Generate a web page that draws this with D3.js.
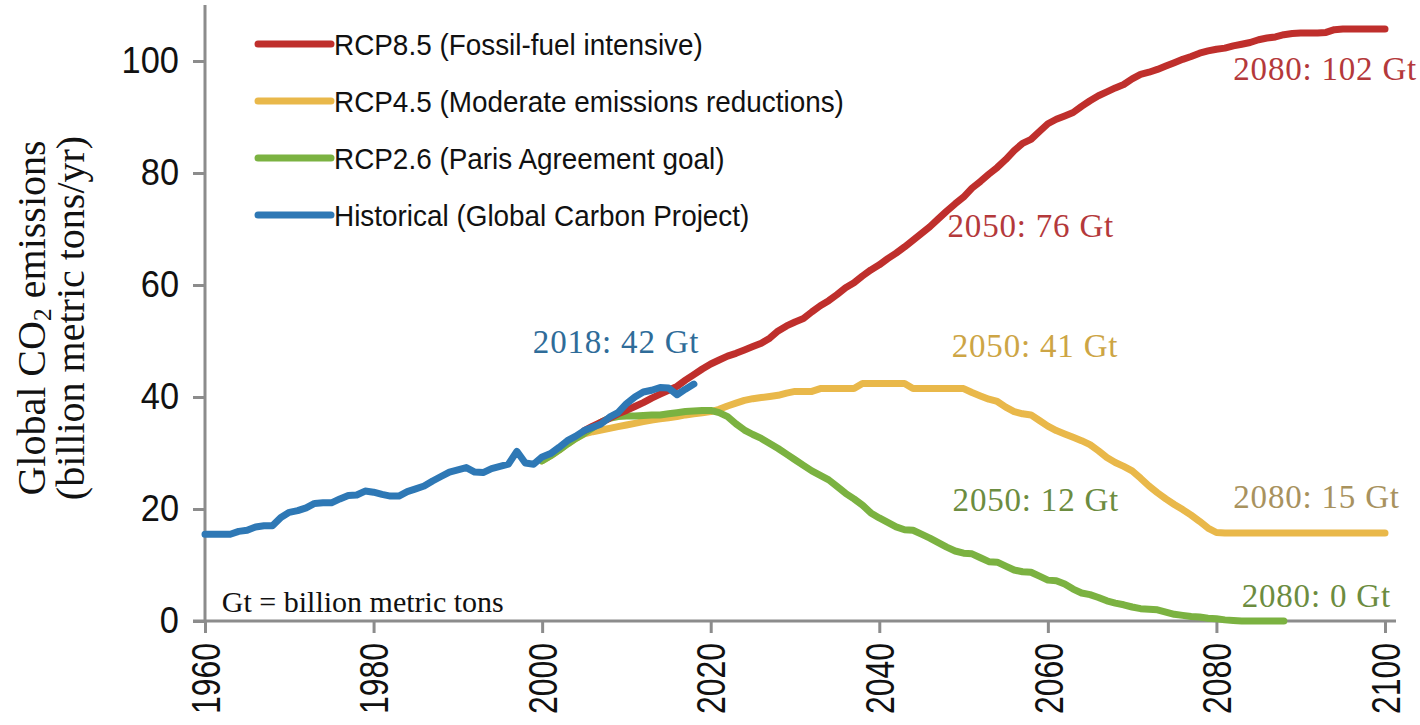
<!DOCTYPE html>
<html><head><meta charset="utf-8">
<script src="https://cdn.jsdelivr.net/npm/d3@7"></script>
<style>body{margin:0;background:#fff} svg{display:block}</style>
</head><body>
<svg id="c" width="1420" height="725"></svg>
<script>
// ---------- DATA ----------
const histYears = d3.range(1960, 2019);
const histValues = [
  15.5,15.5,15.5,15.5,16.0,16.2,16.8,17.0,17.0,18.5,
  19.4,19.7,20.2,21.0,21.1,21.1,21.8,22.4,22.5,23.2,
  23.0,22.6,22.3,22.3,23.1,23.6,24.1,25.0,25.8,26.6,
  27.0,27.4,26.6,26.5,27.2,27.6,28.0,30.3,28.2,28.0,
  29.3,29.9,31.0,32.2,33.0,34.0,34.6,35.2,36.4,37.2,
  38.8,40.0,40.9,41.2,41.7,41.6,40.4,41.4,42.3
];
const rcp85Years = d3.range(2005, 2101);
const rcp85Values = [
  34.0,34.8,35.5,36.2,37.0,
  37.6,38.3,39.0,39.8,40.5,41.2,41.9,43.0,44.0,45.0,
  45.9,46.6,47.3,47.8,48.4,49.0,49.6,50.5,51.8,52.7,
  53.4,54.0,55.2,56.3,57.2,58.3,59.5,60.4,61.6,62.7,
  63.6,64.7,65.7,66.8,68.0,69.2,70.4,71.8,73.2,74.5,
  75.7,77.3,78.5,79.8,81.0,82.4,84.0,85.3,86.0,87.4,
  88.8,89.6,90.2,90.8,91.9,92.9,93.8,94.5,95.2,95.8,
  96.8,97.6,98.0,98.5,99.1,99.7,100.3,100.8,101.4,101.8,
  102.1,102.3,102.7,103.0,103.3,103.8,104.1,104.3,104.7,104.9,
  105.0,105.0,105.0,105.1,105.6,105.7,105.7,105.7,105.7,105.7,105.7
];
const rcp45Years = d3.range(2000, 2101);
const rcp45Values = [
  28.6,29.5,30.5,31.6,32.6,33.4,33.8,34.1,34.4,34.7,
  35.0,35.3,35.6,35.9,36.1,36.3,36.5,36.8,37.0,37.2,
  37.4,37.8,38.4,38.9,39.4,39.7,39.9,40.1,40.3,40.7,
  41.0,41.0,41.0,41.5,41.5,41.5,41.5,41.5,42.4,42.4,
  42.4,42.4,42.4,42.4,41.5,41.5,41.5,41.5,41.5,41.5,
  41.5,40.8,40.2,39.6,39.2,38.2,37.4,37.0,36.8,35.8,
  34.8,34.0,33.4,32.8,32.2,31.5,30.4,29.2,28.3,27.6,
  26.8,25.5,24.1,22.9,21.8,20.8,19.9,18.9,17.8,16.6,
  15.8,15.7,15.7,15.7,15.7,15.7,15.7,15.7,15.7,15.7,
  15.7,15.7,15.7,15.7,15.7,15.7,15.7,15.7,15.7,15.7,15.7
];
const rcp26Years = d3.range(2000, 2089);
const rcp26Values = [
  28.6,29.5,30.5,31.6,32.6,33.5,34.5,35.5,36.2,36.5,
  36.6,36.6,36.7,36.8,36.8,37.0,37.2,37.4,37.5,37.6,
  37.6,37.2,36.5,35.2,34.1,33.3,32.6,31.7,30.8,29.8,
  28.8,27.8,26.8,26.0,25.2,24.0,22.8,21.8,20.7,19.3,
  18.4,17.6,16.8,16.3,16.2,15.5,14.8,14.0,13.2,12.5,
  12.1,12.0,11.3,10.6,10.5,9.8,9.1,8.8,8.7,8.0,
  7.3,7.2,6.6,5.7,5.0,4.7,4.2,3.6,3.2,2.9,
  2.5,2.2,2.1,2.0,1.6,1.2,1.0,0.8,0.7,0.5,
  0.4,0.2,0.1,0,0,0,0,0,0
];
const xTicks = [1960,1980,2000,2020,2040,2060,2080,2100];
const yTicks = [0,20,40,60,80,100];
const legendLabels = [
  "RCP8.5 (Fossil-fuel intensive)",
  "RCP4.5 (Moderate emissions reductions)",
  "RCP2.6 (Paris Agreement goal)",
  "Historical (Global Carbon Project)"
];
const annotationTexts = ["2018: 42 Gt","2050: 76 Gt","2080: 102 Gt","2050: 41 Gt","2050: 12 Gt","2080: 15 Gt","2080: 0 Gt"];
const annotationYears = [1998.9, 2048.1, 2082.0, 2048.6, 2048.7, 2082.0, 2083.0];
const annotationValues = [47.9, 68.6, 96.6, 47.1, 19.6, 20.2, 2.5];

// ---------- STYLE ----------
const C = {red:"#BF2F2C", yellow:"#E9B84A", green:"#7BB241", blue:"#2E78B5", axis:"#8c8c8c"};
const annColors = ["#2F6C99","#B4393B","#B4393B","#CDA545","#6C8C40","#A8925E","#6C8C40"];
const SANS = "Liberation Sans, Arial, sans-serif";
const SERIF = "Liberation Serif, 'Times New Roman', serif";

const svg = d3.select("#c");
const x = d3.scaleLinear().domain([1960, 2100]).range([205, 1385]);
const y = d3.scaleLinear().domain([0, 110]).range([621, 5]);

// axes
const gy = svg.append("g").attr("transform", `translate(${x(1960)},0)`)
  .call(d3.axisLeft(y).tickValues(yTicks).tickSize(12).tickSizeOuter(0).tickPadding(14));
gy.selectAll("text").attr("font-family",SANS).attr("font-size",37).attr("fill","#111")
  .attr("transform","translate(-26,0) scale(0.93,1) translate(26,0)");
const gx = svg.append("g").attr("transform", `translate(0,${y(0)})`)
  .call(d3.axisBottom(x).tickValues(xTicks).tickSize(12).tickSizeOuter(0));
gx.selectAll("text").remove();
[gx, gy].forEach(g => {
  g.select(".domain").remove();
  g.selectAll(".tick line").attr("stroke", C.axis).attr("stroke-width", 3);
});
svg.append("line").attr("x1", x(1960)).attr("x2", x(1960)).attr("y1", y(0)).attr("y2", y.range()[1])
  .attr("stroke", C.axis).attr("stroke-width", 3);
svg.append("line").attr("x1", x(1960)-12).attr("x2", x(2100)+11).attr("y1", y(0)).attr("y2", y(0))
  .attr("stroke", C.axis).attr("stroke-width", 3);

// x tick labels (rotated, condensed)
svg.append("g").selectAll("g").data(xTicks).join("g")
  .attr("transform", d => `translate(${x(d)},${y(0)+22}) rotate(-90) scale(0.78,1)`)
  .append("text").attr("text-anchor","end").attr("dy","0.36em")
  .attr("font-family",SANS).attr("font-size",41).attr("fill","#111")
  .text(d => d);

// series
const line = d3.line().x(d => x(d[0])).y(d => y(d[1]));
const series = [
  {years: rcp45Years, values: rcp45Values, color: C.yellow},
  {years: rcp26Years, values: rcp26Values, color: C.green},
  {years: rcp85Years, values: rcp85Values, color: C.red},
  {years: histYears, values: histValues, color: C.blue}
];
series.forEach(s => {
  svg.append("path").datum(s.years.map((yr,i) => [yr, s.values[i]]))
    .attr("d", line).attr("fill","none").attr("stroke", s.color)
    .attr("stroke-width", 7).attr("stroke-linejoin","round").attr("stroke-linecap","round");
});

// legend
const legColors = [C.red, C.yellow, C.green, C.blue];
const leg = svg.append("g").attr("transform","translate(258,44)");
legendLabels.forEach((t,i) => {
  const g = leg.append("g").attr("transform", `translate(0,${i*57})`);
  g.append("line").attr("x1",0).attr("x2",73).attr("y1",0).attr("y2",0)
    .attr("stroke", legColors[i]).attr("stroke-width",7).attr("stroke-linecap","round");
  g.append("g").attr("transform","translate(76,11) scale(0.93,1)")
    .append("text").attr("font-family",SANS).attr("font-size",30).attr("fill","#111").text(t);
});

// annotations
annotationTexts.forEach((t,i) => {
  svg.append("text").attr("x", x(annotationYears[i])).attr("y", y(annotationValues[i]))
    .attr("font-family",SERIF).attr("font-size",33).attr("letter-spacing",0.8)
    .attr("fill", annColors[i]).text(t);
});
svg.append("text").attr("x", x(1962)).attr("y", y(1.6))
  .attr("font-family",SERIF).attr("font-size",30).attr("fill","#111")
  .text("Gt = billion metric tons");

// y axis title
const yt = svg.append("g").attr("transform","translate(0,318) rotate(-90)");
const t1 = yt.append("text").attr("x",0).attr("y",45).attr("text-anchor","middle")
  .attr("font-family",SERIF).attr("font-size",40).attr("fill","#111");
t1.append("tspan").text("Global CO");
t1.append("tspan").attr("font-size",26).attr("dy",6).text("2");
t1.append("tspan").attr("dy",-6).text(" emissions");
yt.append("text").attr("x",0).attr("y",84).attr("text-anchor","middle")
  .attr("font-family",SERIF).attr("font-size",40).attr("fill","#111")
  .text("(billion metric tons/yr)");
</script>
</body></html>
